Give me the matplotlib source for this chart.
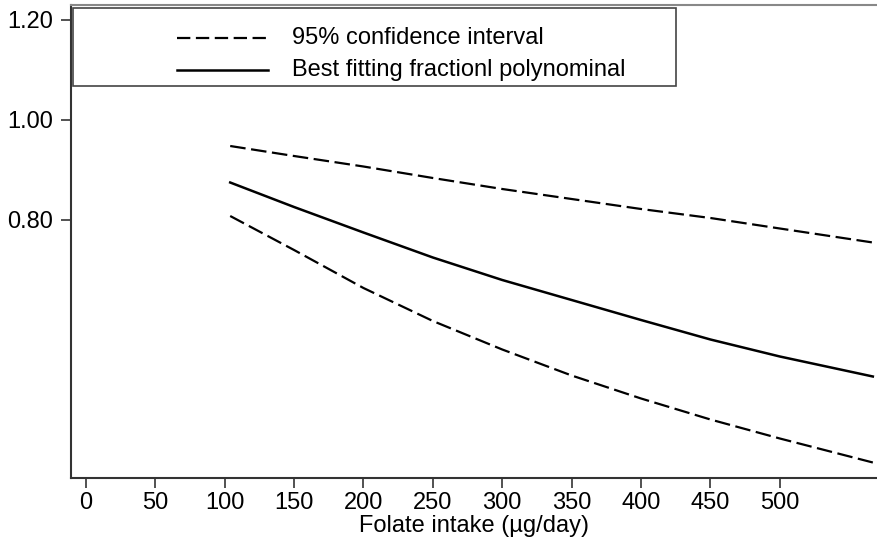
import matplotlib
matplotlib.use('Agg')
import matplotlib.pyplot as plt
from matplotlib.patches import Rectangle

plt.rcParams['font.family'] = ['Liberation Sans', 'DejaVu Sans']

# folate intake (ug/day) and relative risk estimates
intake = [104, 150, 200, 250, 300, 350, 400, 450, 500, 567]
best_fit = [0.875, 0.826, 0.775, 0.725, 0.680, 0.640, 0.600, 0.561, 0.527, 0.487]
ci_upper = [0.948, 0.928, 0.907, 0.884, 0.862, 0.842, 0.822, 0.804, 0.783, 0.755]
ci_lower = [0.808, 0.740, 0.664, 0.598, 0.541, 0.489, 0.443, 0.401, 0.363, 0.315]

x_ticks = [0, 50, 100, 150, 200, 250, 300, 350, 400, 450, 500]
y_ticks = [0.80, 1.00, 1.20]

legend_labels = ['95% confidence interval', 'Best fitting fractionl polynominal']

fig = plt.figure(figsize=(8.78, 5.44), dpi=100)
ax = fig.add_axes([71 / 878, 66 / 544, 806 / 878, 473 / 544])

dash = (7, 2.5)
ax.plot(intake, ci_upper, color='black', lw=1.6, dashes=dash)
ax.plot(intake, ci_lower, color='black', lw=1.6, dashes=dash)
ax.plot(intake, best_fit, color='black', lw=1.8)

ax.set_xlim(-10.7, 570)
ax.set_ylim(0.284, 1.23)
ax.set_xticks(x_ticks)
ax.set_yticks(y_ticks)
ax.set_yticklabels(['%.2f' % v for v in y_ticks])
ax.tick_params(labelsize=17, length=7, width=1.2, color='#333333')
ax.tick_params(axis='x', pad=3)
ax.tick_params(axis='y', pad=6)
ax.set_xlabel('Folate intake (\u00b5g/day)', fontsize=17, labelpad=1)

for s in ['left', 'bottom']:
    ax.spines[s].set_linewidth(1.5)
    ax.spines[s].set_color('#333333')
ax.spines['right'].set_visible(False)
ax.spines['top'].set_color('#888888')
ax.spines['top'].set_linewidth(1.5)

# legend box drawn by hand to match the original placement
ax.add_patch(Rectangle((0.0025, 0.829), 0.748, 0.165, transform=ax.transAxes,
                       fill=False, edgecolor='#444444', lw=1.2, zorder=5))
ax.plot([0.132, 0.245], [0.93, 0.93], transform=ax.transAxes, color='black',
        lw=1.6, dashes=(6, 2.5))
ax.plot([0.132, 0.245], [0.862, 0.862], transform=ax.transAxes, color='black',
        lw=1.8)
ax.text(0.274, 0.93, legend_labels[0], transform=ax.transAxes, fontsize=17,
        va='center', ha='left')
ax.text(0.274, 0.862, legend_labels[1], transform=ax.transAxes, fontsize=17,
        va='center', ha='left')

fig.savefig('out.png', dpi=100)
